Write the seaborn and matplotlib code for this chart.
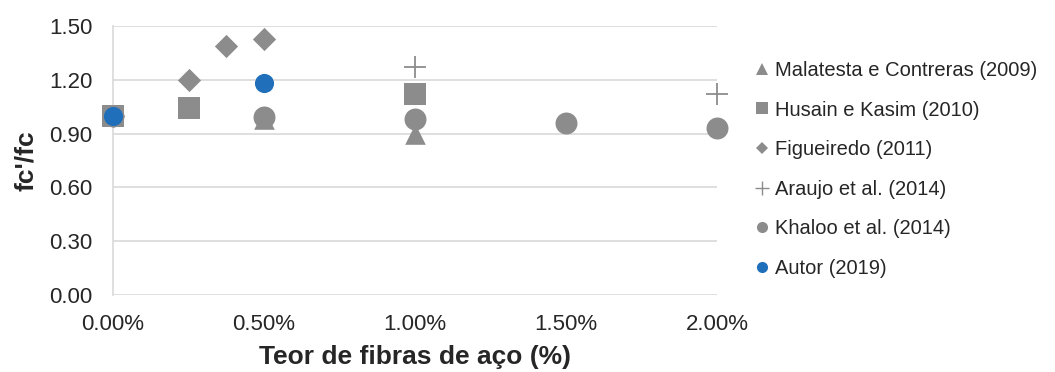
import pandas as pd
import numpy as np
import matplotlib
matplotlib.use("Agg")
import matplotlib.pyplot as plt
import seaborn as sns
from matplotlib.ticker import FuncFormatter
from matplotlib.lines import Line2D

# data
malatesta_x = [0.0, 0.005, 0.01]
malatesta_y = [1.00, 0.98, 0.90]
husain_x = [0.0, 0.0025, 0.01]
husain_y = [1.00, 1.04, 1.12]
figueiredo_x = [0.0, 0.0025, 0.00375, 0.005]
figueiredo_y = [1.00, 1.20, 1.39, 1.43]
araujo_x = [0.0, 0.01, 0.02]
araujo_y = [1.00, 1.27, 1.12]
khaloo_x = [0.0, 0.005, 0.01, 0.015, 0.02]
khaloo_y = [1.00, 0.99, 0.98, 0.96, 0.93]
autor_x = [0.0, 0.005]
autor_y = [1.00, 1.18]

labels = ["Malatesta e Contreras (2009)", "Husain e Kasim (2010)", "Figueiredo (2011)",
          "Araujo et al. (2014)", "Khaloo et al. (2014)", "Autor (2019)"]

frames = []
for lab, xs, ys in zip(labels,
                       [malatesta_x, husain_x, figueiredo_x, araujo_x, khaloo_x, autor_x],
                       [malatesta_y, husain_y, figueiredo_y, araujo_y, khaloo_y, autor_y]):
    frames.append(pd.DataFrame({"teor": xs, "ratio": ys, "serie": lab}))
df = pd.concat(frames, ignore_index=True)

sns.set_style("white")
plt.rcParams['font.family'] = ['Liberation Sans', 'DejaVu Sans']

gray = "#8C8C8C"
blue = "#1F6FBA"
txt = "#262626"
style = {
    labels[0]: dict(marker="^", s=220, color=gray),
    labels[1]: dict(marker="s", s=250, color=gray),
    labels[2]: dict(marker="D", s=140, color=gray),
    labels[3]: dict(marker="+", s=250, color=gray),
    labels[4]: dict(marker="o", s=250, color=gray),
    labels[5]: dict(marker="o", s=190, color=blue),
}

fig = plt.figure(figsize=(10.55, 3.72), dpi=100)
ax = fig.add_axes([113/1055, 77/372, 604/1055, 269/372])

for lab in labels:
    st = style[lab]
    sub = df[df["serie"] == lab]
    is_plus = st["marker"] == "+"
    sns.scatterplot(data=sub, x="teor", y="ratio", ax=ax, marker=st["marker"], s=st["s"],
                    color=st["color"], edgecolor=None if is_plus else st["color"],
                    linewidth=1.3 if is_plus else 0, legend=False, zorder=3, clip_on=False)

ax.set_xlim(0, 0.02)
ax.set_ylim(0, 1.5)
ax.set_xticks([0, 0.005, 0.01, 0.015, 0.02])
ax.set_yticks([0, 0.3, 0.6, 0.9, 1.2, 1.5])
ax.xaxis.set_major_formatter(FuncFormatter(lambda v, p: f"{v*100:.2f}%"))
ax.yaxis.set_major_formatter(FuncFormatter(lambda v, p: f"{v:.2f}"))
ax.grid(axis="y", color="#D9D9D9", linewidth=1.2)
ax.set_axisbelow(True)
for sp in ["top", "right", "bottom"]:
    ax.spines[sp].set_visible(False)
ax.spines["left"].set_color("#D9D9D9")
ax.spines["left"].set_linewidth(1.2)
ax.tick_params(axis="both", labelsize=16, colors=txt, length=0)
ax.tick_params(axis="y", pad=15)
ax.tick_params(axis="x", pad=14)
ax.set_xlabel("Teor de fibras de aço (%)", fontsize=19, fontweight="bold", labelpad=7, color=txt)
ax.set_ylabel("fc'/fc", fontsize=19, fontweight="bold", labelpad=8, color=txt)

handles = []
leg_sizes = {"^": 8.5, "s": 8, "D": 6, "+": 9.5, "o": 8}
for lab in labels:
    st = style[lab]
    handles.append(Line2D([0], [0], linestyle="none", marker=st["marker"], color=st["color"],
                          markersize=leg_sizes[st["marker"]],
                          markeredgewidth=1 if st["marker"] == "+" else 0))
leg = fig.legend(handles, labels, loc="upper left", bbox_to_anchor=(755/1055, 1 - 61/372),
                 frameon=False, fontsize=14.5, handlelength=0.7, handletextpad=0.3,
                 labelspacing=1.02, borderaxespad=0, borderpad=0)
for t in leg.get_texts():
    t.set_color(txt)

fig.savefig("out.png", dpi=100)
